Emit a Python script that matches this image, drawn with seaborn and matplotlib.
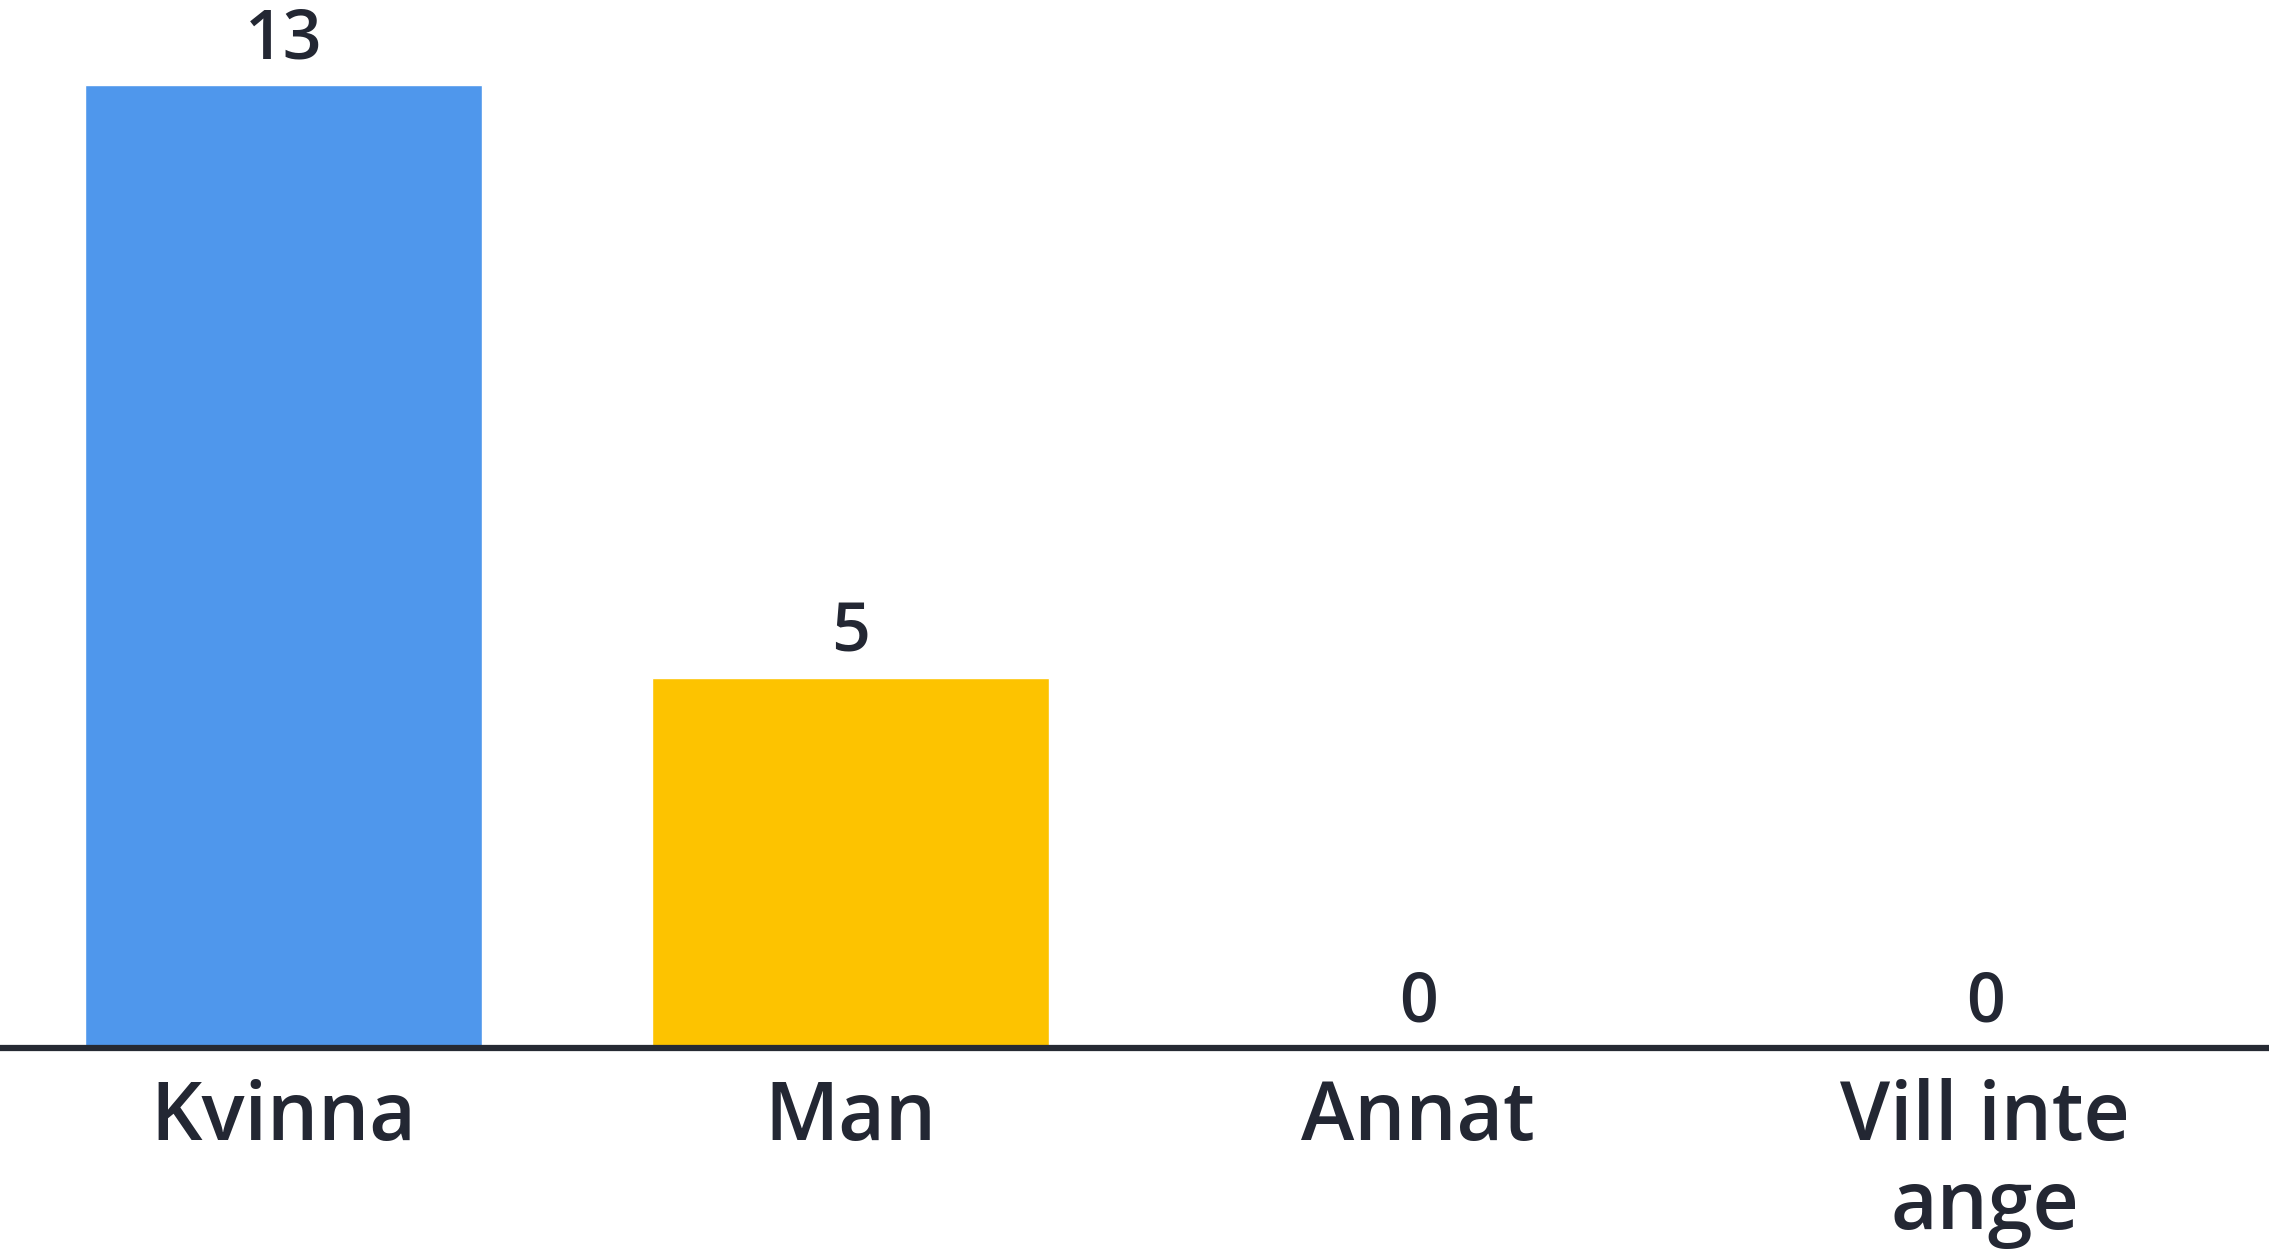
import matplotlib
matplotlib.use("Agg")
import matplotlib.pyplot as plt
import pandas as pd
import seaborn as sns

categories = ["Kvinna", "Man", "Annat", "Vill inte\nange"]
counts = [13, 5, 0, 0]
bar_colors = ["#4F97EC", "#FDC300", "#9E9E9E", "#9E9E9E"]

TEXT_COLOR = "#232733"

sns.set_style("white")
plt.rcParams["font.family"] = ["Open Sans", "DejaVu Sans"]

df = pd.DataFrame({"category": categories, "count": counts})

fig = plt.figure(figsize=(22.69, 12.49), dpi=100)
ax = fig.add_axes([0, 0.161, 1, 0.839])

sns.barplot(
    data=df, x="category", y="count", hue="category",
    palette=bar_colors, width=0.7, legend=False, ax=ax, saturation=1,
)

for container in ax.containers:
    ax.bar_label(container, fmt="%d", padding=7, fontsize=49,
                 color=TEXT_COLOR, fontweight="semibold")

ax.set_xlim(-0.5, 3.5)
ax.set_ylim(0, 14.15)
ax.set_xlabel("")
ax.set_ylabel("")
ax.set_yticks([])
ax.tick_params(axis="x", length=0, pad=22, labelsize=58, labelcolor=TEXT_COLOR)
for lbl in ax.get_xticklabels():
    lbl.set_linespacing(1.1)
    lbl.set_fontweight("semibold")

for side in ["top", "left", "right"]:
    ax.spines[side].set_visible(False)
ax.spines["bottom"].set_linewidth(4.5)
ax.spines["bottom"].set_color("#262a33")
ax.spines["bottom"].set_zorder(5)

fig.savefig("out.png", dpi=100, facecolor="white")
